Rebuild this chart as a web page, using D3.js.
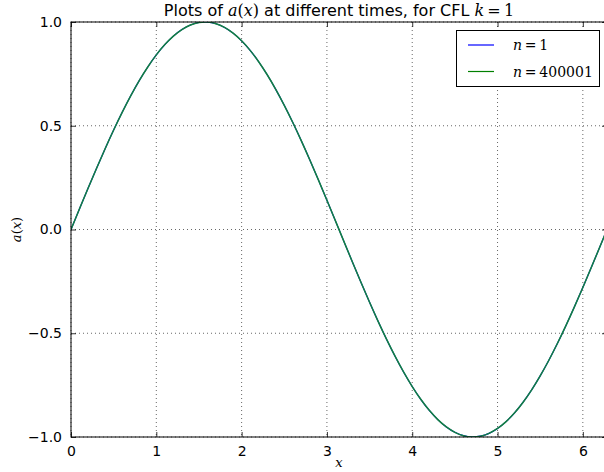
<!DOCTYPE html>
<html><head><meta charset="utf-8">
<script src="https://cdn.jsdelivr.net/npm/d3@7"></script>
<style>
body{margin:0;background:#fff;}
svg{display:block;font-family:"DejaVu Sans",sans-serif;}
.math{font-family:"DejaVu Serif","Liberation Serif",serif;}
</style></head><body>
<svg id="chart" width="604" height="472"></svg>
<script>
const xValues = [0,0.1,0.2,0.3,0.4,0.5,0.6,0.7,0.8,0.9,1.0,1.1,1.2,1.3,1.4,1.5,1.6,1.7,1.8,1.9,2.0,2.1,2.2,2.3,2.4,2.5,2.6,2.7,2.8,2.9,3.0,3.1,3.2,3.3,3.4,3.5,3.6,3.7,3.8,3.9,4.0,4.1,4.2,4.3,4.4,4.5,4.6,4.7,4.8,4.9,5.0,5.1,5.2,5.3,5.4,5.5,5.6,5.7,5.8,5.9,6.0,6.1,6.2,6.283];
const seriesN1 = [0,0.0998,0.1987,0.2955,0.3894,0.4794,0.5646,0.6442,0.7174,0.7833,0.8415,0.8912,0.9320,0.9636,0.9854,0.9975,0.9996,0.9917,0.9738,0.9463,0.9093,0.8632,0.8085,0.7457,0.6755,0.5985,0.5155,0.4274,0.3350,0.2392,0.1411,0.0416,-0.0584,-0.1577,-0.2555,-0.3508,-0.4425,-0.5298,-0.6119,-0.6878,-0.7568,-0.8183,-0.8716,-0.9162,-0.9516,-0.9775,-0.9937,-0.9999,-0.9962,-0.9825,-0.9589,-0.9258,-0.8835,-0.8323,-0.7728,-0.7055,-0.6313,-0.5507,-0.4646,-0.3739,-0.2794,-0.1822,-0.0831,0];
const seriesN400001 = [0,0.0998,0.1987,0.2955,0.3894,0.4794,0.5646,0.6442,0.7174,0.7833,0.8415,0.8912,0.9320,0.9636,0.9854,0.9975,0.9996,0.9917,0.9738,0.9463,0.9093,0.8632,0.8085,0.7457,0.6755,0.5985,0.5155,0.4274,0.3350,0.2392,0.1411,0.0416,-0.0584,-0.1577,-0.2555,-0.3508,-0.4425,-0.5298,-0.6119,-0.6878,-0.7568,-0.8183,-0.8716,-0.9162,-0.9516,-0.9775,-0.9937,-0.9999,-0.9962,-0.9825,-0.9589,-0.9258,-0.8835,-0.8323,-0.7728,-0.7055,-0.6313,-0.5507,-0.4646,-0.3739,-0.2794,-0.1822,-0.0831,0];
const xTicks = [0,1,2,3,4,5,6];
const yTicks = [-1.0,-0.5,0.0,0.5,1.0];
const seriesNames = ["1","400001"];
const seriesColors = ["#0000ff","#008000"];

const svg = d3.select("#chart");
const L = 71, R = 607, T = 22, B = 437;
const x = d3.scaleLinear().domain([0, 6.2832]).range([L, R]);
const y = d3.scaleLinear().domain([-1, 1]).range([B, T]);

svg.append("defs").append("clipPath").attr("id","clip")
  .append("rect").attr("x",L).attr("y",T).attr("width",R-L).attr("height",B-T);

// grid
const grid = svg.append("g");
xTicks.forEach(t => {
  grid.append("line").attr("x1",x(t)).attr("x2",x(t)).attr("y1",T).attr("y2",B)
    .attr("stroke","#000").attr("stroke-width",0.6).attr("stroke-dasharray","1,3");
});
yTicks.forEach(t => {
  grid.append("line").attr("x1",L).attr("x2",R).attr("y1",y(t)).attr("y2",y(t))
    .attr("stroke","#000").attr("stroke-width",0.6).attr("stroke-dasharray","1,3");
});

// series
const line = d3.line().x((d,i)=>x(xValues[i])).y(d=>y(d)).curve(d3.curveCatmullRom);
const g = svg.append("g").attr("clip-path","url(#clip)");
[seriesN1, seriesN400001].forEach((s,i)=>{
  g.append("path").attr("d", line(s)).attr("fill","none")
    .attr("stroke", i === 0 ? seriesColors[i] : "#13813f").attr("stroke-width", i === 0 ? 1.2 : 1.5);
});

// axes (inward ticks, matplotlib classic)
const fmtY = d => d3.format(".1f")(d).replace("-", "\u2212");
const xAxisB = d3.axisBottom(x).tickValues(xTicks).tickSize(-5).tickPadding(9).tickFormat(d3.format("d"));
const xAxisT = d3.axisTop(x).tickValues(xTicks).tickSize(-5).tickFormat("");
const yAxisL = d3.axisLeft(y).tickValues(yTicks).tickSize(-5).tickPadding(9).tickFormat(fmtY);
const yAxisR = d3.axisRight(y).tickValues(yTicks).tickSize(-5).tickFormat("");
function style(sel){
  sel.select(".domain").remove();
  sel.selectAll("line").attr("stroke","#000").attr("stroke-width",0.8);
  sel.selectAll("text").attr("font-size",14).attr("fill","#000").attr("font-family","DejaVu Sans");
}
svg.append("g").attr("transform",`translate(0,${B})`).call(xAxisB).call(style);
svg.append("g").attr("transform",`translate(0,${T})`).call(xAxisT).call(style);
svg.append("g").attr("transform",`translate(${L},0)`).call(yAxisL).call(style);
svg.append("g").attr("transform",`translate(${R},0)`).call(yAxisR).call(style);

// frame
svg.append("rect").attr("x",L).attr("y",T).attr("width",R-L).attr("height",B-T)
  .attr("fill","none").attr("stroke","#000").attr("stroke-width",1);

// title
const title = svg.append("text").attr("x",(L+R)/2).attr("y",16).attr("text-anchor","middle")
  .attr("font-size",16).attr("fill","#000");
title.append("tspan").text("Plots of ");
title.append("tspan").attr("class","math").attr("font-style","italic").text("a");
title.append("tspan").attr("class","math").text("(");
title.append("tspan").attr("class","math").attr("font-style","italic").text("x");
title.append("tspan").attr("class","math").text(")");
title.append("tspan").text(" at different times, for CFL ");
title.append("tspan").attr("class","math").attr("font-style","italic").text("k");
title.append("tspan").attr("class","math").text("\u2009=\u20091");

// axis labels
svg.append("text").attr("class","math").attr("x",(L+R)/2).attr("y",467).attr("text-anchor","middle")
  .attr("font-size",13).attr("font-style","italic").text("x");
const yl = svg.append("text").attr("class","math").attr("transform",`translate(21,${(T+B)/2}) rotate(-90)`)
  .attr("text-anchor","middle").attr("font-size",13);
yl.append("tspan").attr("font-style","italic").text("a");
yl.append("tspan").text("(");
yl.append("tspan").attr("font-style","italic").text("x");
yl.append("tspan").text(")");

// legend
const lg = svg.append("g");
lg.append("rect").attr("x",456.5).attr("y",30.5).attr("width",143).attr("height",56)
  .attr("fill","#fff").attr("stroke","#000").attr("stroke-width",1);
seriesNames.forEach((nm,i)=>{
  const yy = 45 + i*26.5;
  lg.append("line").attr("x1",468).attr("x2",494).attr("y1",yy).attr("y2",yy)
    .attr("stroke",seriesColors[i]).attr("stroke-width",1.2);
  const t = lg.append("text").attr("class","math").attr("x",513).attr("y",yy+5).attr("font-size",14);
  t.append("tspan").attr("font-style","italic").text("n");
  t.append("tspan").text("\u2009=\u2009"+nm);
});
</script></body></html>
